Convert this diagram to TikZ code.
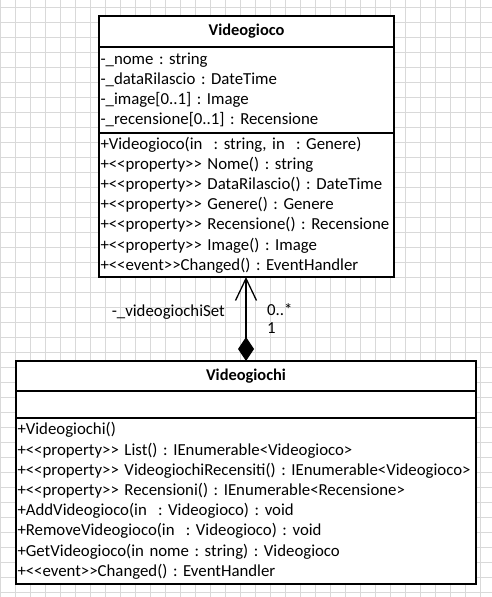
\documentclass[tikz,border=0pt]{standalone}
\usepackage{fontspec}
\setmainfont{Carlito}
\usetikzlibrary{positioning,arrows.meta}
\newcommand{\stereo}[1]{<\kern0pt<#1>\kern0pt>}
\frenchspacing

\begin{document}
\begin{tikzpicture}[x=1pt,y=1pt,
      classbox/.style={draw, line width=1.4pt, fill=white, outer sep=0pt, inner xsep=1.5pt, inner ysep=0pt,
        align=left, font=\fontsize{16.8}{20.2}\selectfont},
      classhead/.style={classbox, align=center, font=\fontsize{16.4}{20}\selectfont\bfseries},
      gridline/.style={draw=black!15, line width=0.8pt},
      lbl/.style={inner sep=0pt, font=\fontsize{16.8}{20}\selectfont},
      composition/.style={{Diamond[length=24pt,width=16pt]}-{Straight Barb[length=22pt,width=21pt]}, line width=1.3pt}]
      \useasboundingbox (0,0) rectangle (492,597);

      % Background grid
      \begin{scope}[shift={(0.7,4.7)}]
        \draw[gridline, step=15pt] (-0.7,-4.7) grid (491.3,592.3);
      \end{scope}

      % Class Videogioco
      \node (gocoHead) [classhead, minimum width=295pt, minimum height=31pt, anchor=north west] at (99,581) {Videogioco};
      \node (gocoAttr) [classbox, text width=292pt, minimum height=86pt, below=0pt of gocoHead]
        {-\_nome : string\\
         -\_dataRilascio : DateTime\\
         -\_image[0..1] : Image\\
         -\_recensione[0..1] : Recensione};
      \node (gocoOps) [classbox, text width=292pt, minimum height=144pt, below=0pt of gocoAttr]
        {+Videogioco(in~ : string, in~ : Genere)\\
         +\stereo{property} Nome() : string\\
         +\stereo{property} DataRilascio() : DateTime\\
         +\stereo{property} Genere() : Genere\\
         +\stereo{property} Recensione() : Recensione\\
         +\stereo{property} Image() : Image\\
         +\stereo{event}Changed() : EventHandler};

      % Class Videogiochi
      \node (chiHead) [classhead, minimum width=460pt, minimum height=30pt, anchor=north west] at (16,236) {Videogiochi};
      \node (chiAttr) [classbox, text width=457pt, minimum height=27pt, below=0pt of chiHead] {};
      \node (chiOps) [classbox, text width=457pt, minimum height=166pt, below=0pt of chiAttr]
        {+Videogiochi()\\
         +\stereo{property} List() : IEnumerable<Videogioco>\\
         +\stereo{property} VideogiochiRecensiti() : IEnumerable<Videogioco>\\
         +\stereo{property} Recensioni() : IEnumerable<Recensione>\\
         +AddVideogioco(in~ : Videogioco) : void\\
         +RemoveVideogioco(in~ : Videogioco) : void\\
         +GetVideogioco(in nome : string) : Videogioco\\
         +\stereo{event}Changed() : EventHandler};

      % Composition with its labels
      \draw[composition] (chiHead.north) -- (chiHead.north |- gocoOps.south);
      \node (roleName) [lbl, anchor=east] at (225,285.3) {-\_videogiochiSet};
      \node (multMany) [lbl, anchor=west] at (267,287) {0..*};
      \node (multOne)  [lbl, anchor=west] at (267,269) {1};
\end{tikzpicture}
\end{document}
